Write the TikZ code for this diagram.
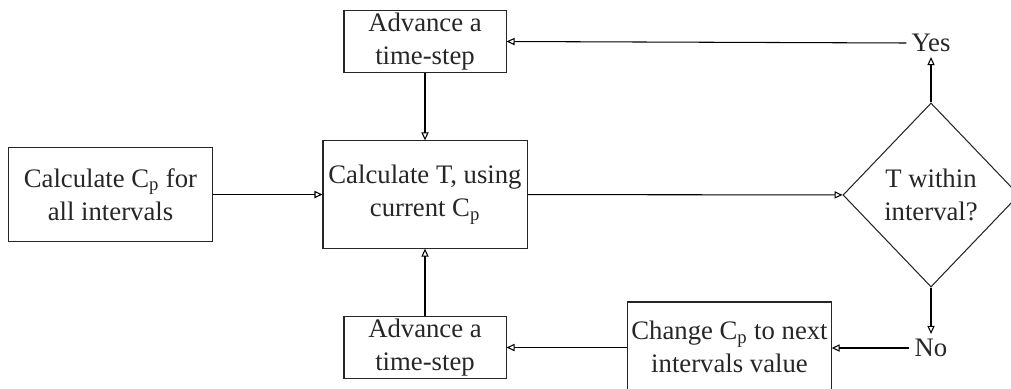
\documentclass[tikz,border=0pt]{standalone}
\usepackage{fontspec}
\setmainfont{Liberation Serif}
\usepackage{tikz}
\usetikzlibrary{shapes.geometric,arrows.meta}

\begin{document}
\begin{tikzpicture}
	[x=0.025cm,y=-0.025cm,
	 line width=0.75pt,
	 >={Triangle[open,length=2mm,width=1.8mm]},
	 txt/.style={font=\fontsize{19}{23.5}\selectfont,align=center,text=black!85},
	 b/.style={txt,draw=black!85,rectangle,inner sep=0pt},
	 d/.style={txt,draw=black!85,diamond,inner sep=0pt,minimum width=4.4cm,minimum height=4.6cm}]

	\useasboundingbox (0,0) rectangle (1011,388);

	\node[b,minimum width=5.08cm,minimum height=2.33cm] (n0) at (110.5,194.5) {Calculate C\textsubscript{p} for\\all intervals};

	\node[b,minimum width=5.1cm,minimum height=2.68cm] (n1) at (425,194.5) {Calculate T, using\\current C\textsubscript{p}};

	\node[b,minimum width=4.05cm,minimum height=1.53cm] (n2) at (425,41.5) {Advance a\\time-step};

	\node[b,minimum width=4.05cm,minimum height=1.53cm] (n3) at (425,347.5) {Advance a\\time-step};

	\node[d] (n4) at (931,195) {T within\\interval?};

	\node[b,minimum width=5.08cm,minimum height=2.25cm] (n5) at (729.5,347) {Change C\textsubscript{p} to next\\intervals value};

	\node[txt] (yes) at (931,43) {Yes};
	\node[txt] (no) at (931,348) {No};

	\draw[->] (n0) -- (n1);
	\draw[->] (n2) -- (n1);
	\draw[->] (n1) -- (n4);
	\draw[->] (n4.north) -- (yes.south);
	\draw[->] (yes.west) -- (n2.east);
	\draw[->] (n4.south) -- (no.north);
	\draw[->] (no.west) -- (n5.east |- no.west);
	\draw[->] (n5.west |- n3.east) -- (n3.east);
	\draw[->] (n3) -- (n1);

\end{tikzpicture}
\end{document}
